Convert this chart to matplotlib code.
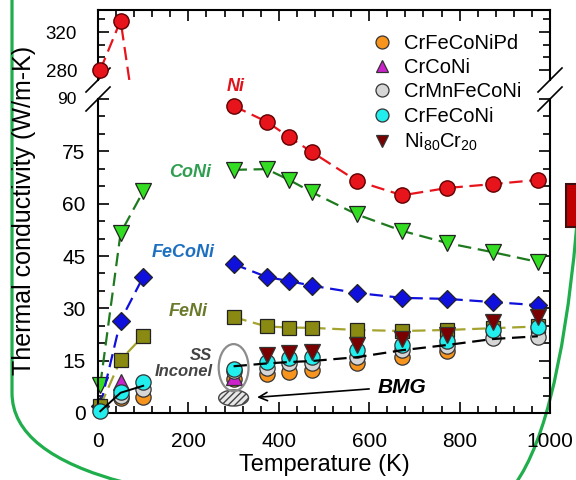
import matplotlib
matplotlib.use("Agg")
import matplotlib.pyplot as plt
from matplotlib.ticker import MultipleLocator, FuncFormatter
from matplotlib.transforms import blended_transform_factory
from matplotlib.patches import Ellipse, FancyBboxPatch, Rectangle

plt.rcParams['font.family'] = ['Liberation Sans', 'DejaVu Sans']
plt.rcParams['mathtext.default'] = 'regular'

# ---- data: temperature (K) and thermal conductivity (W/m-K) ----
T_low = [5, 50, 100]
T_high = [300, 373, 423, 473, 573, 673, 773, 873, 973]

ni_low = [280, 332, 170]
ni_high = [88.0, 83.5, 79.1, 74.8, 66.5, 62.4, 64.5, 65.6, 66.8]
coni_low = [8.0, 51.6, 63.5]
coni_high = [69.7, 69.9, 66.8, 63.3, 56.9, 52.2, 48.7, 46.1, 43.3]
feconi_low = [2.0, 26.5, 39.0]
feconi_high = [42.7, 39.0, 37.8, 36.5, 34.4, 33.0, 32.7, 31.8, 30.9]
feni_low = [2.0, 15.2, 22.1]
feni_high = [27.5, 24.8, 24.5, 24.4, 23.8, 23.5, 23.8, 24.3, 24.8]

ref_low = [0.5, 5.8, 7.8]
ref_high = [13.4, 14.2, 14.6, 14.9, 16.0, 18.0, 19.5, 21.2, 22.0]

pd_T = [50, 100, 300, 373, 423, 473, 573, 673, 773]
pd_k = [4.3, 4.6, 9.7, 11.2, 11.7, 12.3, 14.3, 16.0, 17.8]
crconi_T = [50, 300]
crconi_k = [8.8, 10.3]
cantor_T = [50, 100, 300, 373, 423, 473, 573, 673, 773, 873, 973]
cantor_k = [5.0, 6.9, 12.0, 13.0, 14.3, 14.3, 16.0, 18.1, 19.3, 21.5, 21.8]
crfeconi_T = [5, 50, 100, 300, 373, 423, 473, 573, 673, 773, 873, 973]
crfeconi_k = [0.6, 6.0, 8.9, 12.6, 14.6, 15.8, 16.0, 18.1, 19.5, 20.6, 23.8, 24.6]
nicr_T = [373, 423, 473, 573, 673, 773, 873, 973]
nicr_k = [16.6, 17.2, 17.5, 19.5, 21.2, 22.3, 26.1, 27.5]

legend_labels = ['CrFeCoNiPd', 'CrCoNi', 'CrMnFeCoNi', 'CrFeCoNi',
                 'Ni$_{80}$Cr$_{20}$']

W, H = 576, 480
fig = plt.figure(figsize=(W / 100, H / 100), dpi=100)

# slide frame behind the chart
bg = fig.add_axes([0, 0, 1, 1], zorder=-1)
bg.set_xlim(0, W)
bg.set_ylim(H, 0)
bg.axis('off')
bg.add_patch(FancyBboxPatch((12, -200), 576, 713,
                            boxstyle='round,pad=0,rounding_size=120',
                            fill=False, ec='#1fae4b', lw=2.3))
bg.add_patch(Rectangle((566, 184), 20, 43, fc='#c00000', ec='#3a1010', lw=1.5))

# broken y axis: lower and upper panels
ax = fig.add_axes([98 / W, 67 / H, 452 / W, 314 / H])
axt = fig.add_axes([98 / W, 400 / H, 452 / W, 70 / H], sharex=ax)
for a in (ax, axt):
    a.set_facecolor('none')
    for s in a.spines.values():
        s.set_linewidth(1.5)
    a.tick_params(which='both', direction='in', width=1.2, labelsize=15,
                  top=True, right=True)
    a.tick_params(which='major', length=8)
    a.tick_params(which='minor', length=5)
ax.spines['top'].set_visible(False)
axt.spines['bottom'].set_visible(False)
ax.tick_params(which='both', top=False)
ax.tick_params(axis='x', which='major', pad=13.5)
ax.tick_params(axis='y', which='major', pad=9)
axt.tick_params(which='both', bottom=False, labelbottom=False)
axt.tick_params(axis='y', which='major', pad=15, labelsize=13.5)

ax.set_xlim(0, 1000)
ax.set_ylim(0, 90)
axt.set_ylim(269.5, 343.2)
ax.xaxis.set_major_locator(MultipleLocator(200))
ax.xaxis.set_minor_locator(MultipleLocator(40))
ax.yaxis.set_major_locator(MultipleLocator(15))
ax.yaxis.set_minor_locator(MultipleLocator(5))
ax.yaxis.set_major_formatter(FuncFormatter(
    lambda v, p: '' if v >= 90 else f'{v:.0f}'))
axt.yaxis.set_major_locator(MultipleLocator(40))
axt.yaxis.set_minor_locator(MultipleLocator(40 / 3))
ax.text(-21 / 452, 90, '90', fontsize=12.5, ha='right', va='center',
        transform=blended_transform_factory(ax.transAxes, ax.transData))

ax.set_xlabel('Temperature (K)', fontsize=17, labelpad=2)
fig.text(24 / W, 1 - 210 / H, 'Thermal conductivity (W/m-K)', rotation=90,
         fontsize=18, ha='center', va='center')

# break marks on both spines
def brk(a, y, hpx):
    dx, dy = 12 / 452, 12 / hpx
    for x0 in (0, 1):
        a.plot([x0 - dx, x0 + dx], [y - dy, y + dy], transform=a.transAxes,
               color='k', lw=1.2, clip_on=False)
brk(axt, 0, 70)
brk(ax, 1, 314)

dash = (6, 3)
red, green_l, green_m, blue, olive_l, olive_m = ('#e8141c', '#1e7a1e', '#33dd22',
                                                  '#1010dd', '#a4a32e', '#8a8a12')
# nickel and the binary / ternary alloys
axt.plot(T_low, ni_low, color=red, lw=1.6, dashes=dash)
axt.plot(T_low, ni_low, ls='none', marker='o', ms=11, mfc=red, mec='#600000',
         markevery=[0, 1], clip_on=False, zorder=5)
ax.plot(T_high, ni_high, color=red, lw=1.6, dashes=dash, marker='o', ms=11,
        mfc=red, mec='#600000', clip_on=False)

for xs, ys, lc, mc, mk, ms in [
        (T_low, coni_low, green_l, green_m, 'v', 11),
        (T_high, coni_high, green_l, green_m, 'v', 11),
        (T_low, feconi_low, blue, blue, 'D', 9),
        (T_high, feconi_high, blue, blue, 'D', 9),
        (T_low, feni_low, olive_l, olive_m, 's', 10),
        (T_high, feni_high, olive_l, olive_m, 's', 10)]:
    ax.plot(xs, ys, color=lc, lw=1.6, dashes=dash, marker=mk, ms=ms, mfc=mc,
            mec='#222222', mew=0.9, clip_on=False)

# concentrated alloys
handles = []
for xs, ys, mk, fc, ms in [
        (pd_T, pd_k, 'o', '#f7941d', 11),
        (crconi_T, crconi_k, '^', '#cc22cc', 11),
        (cantor_T, cantor_k, 'o', '#d6d6d6', 11),
        (crfeconi_T, crfeconi_k, 'o', '#22eeee', 11),
        (nicr_T, nicr_k, 'v', '#7a0000', 11)]:
    h, = ax.plot(xs, ys, ls='none', marker=mk, ms=ms, mfc=fc, mec='#333333',
                 mew=0.9, clip_on=False, zorder=4)
    handles.append(h)

ax.plot(T_low, ref_low, color='k', lw=1.4, zorder=6, clip_on=False)
ax.plot(T_high, ref_high, color='k', lw=1.6, dashes=dash, zorder=6)

# SS / Inconel marker and BMG region at room temperature
ax.add_patch(Ellipse((300, 13.0), 66, 13.5, fill=False, ec='#8c8c8c', lw=1.6,
                     zorder=7))
ax.add_patch(Ellipse((300, 4.3), 66, 4.6, fc='#e8e8e8', ec='#444444', lw=1.0,
                     hatch='/////', zorder=3))
ax.annotate('', xy=(352, 4.5), xytext=(600, 6.9),
            arrowprops=dict(arrowstyle='->', color='k', lw=1.2,
                            shrinkA=0, shrinkB=0, mutation_scale=15))
ax.text(672, 7.2, 'BMG', fontsize=15, fontweight='bold', style='italic',
        ha='center', va='center')
ax.text(252, 16.6, 'SS', fontsize=12, fontweight='bold', style='italic',
        color='#444444', ha='right', va='center')
ax.text(254, 12.0, 'Inconel', fontsize=12, fontweight='bold', style='italic',
        color='#444444', ha='right', va='center')

lab = dict(fontsize=13, fontweight='bold', style='italic', ha='center',
           va='center', clip_on=False)
ax.text(305, 93.5, 'Ni', color='#e0141c', **lab)
ax.text(203, 69, 'CoNi', color='#2e9e4f', **lab)
ax.text(188, 46.1, 'FeCoNi', color='#1d6fc0', **lab)
ax.text(199, 29, 'FeNi', color='#6a7a2a', **lab)

fig.legend(handles, legend_labels, loc='upper left',
           bbox_to_anchor=(369 / W, 1 - 34 / H), frameon=False, fontsize=14.5,
           handlelength=1.3, handletextpad=0.45, labelspacing=0.26,
           borderpad=0, borderaxespad=0, markerscale=0.85)

fig.savefig('out.png', dpi=100)
